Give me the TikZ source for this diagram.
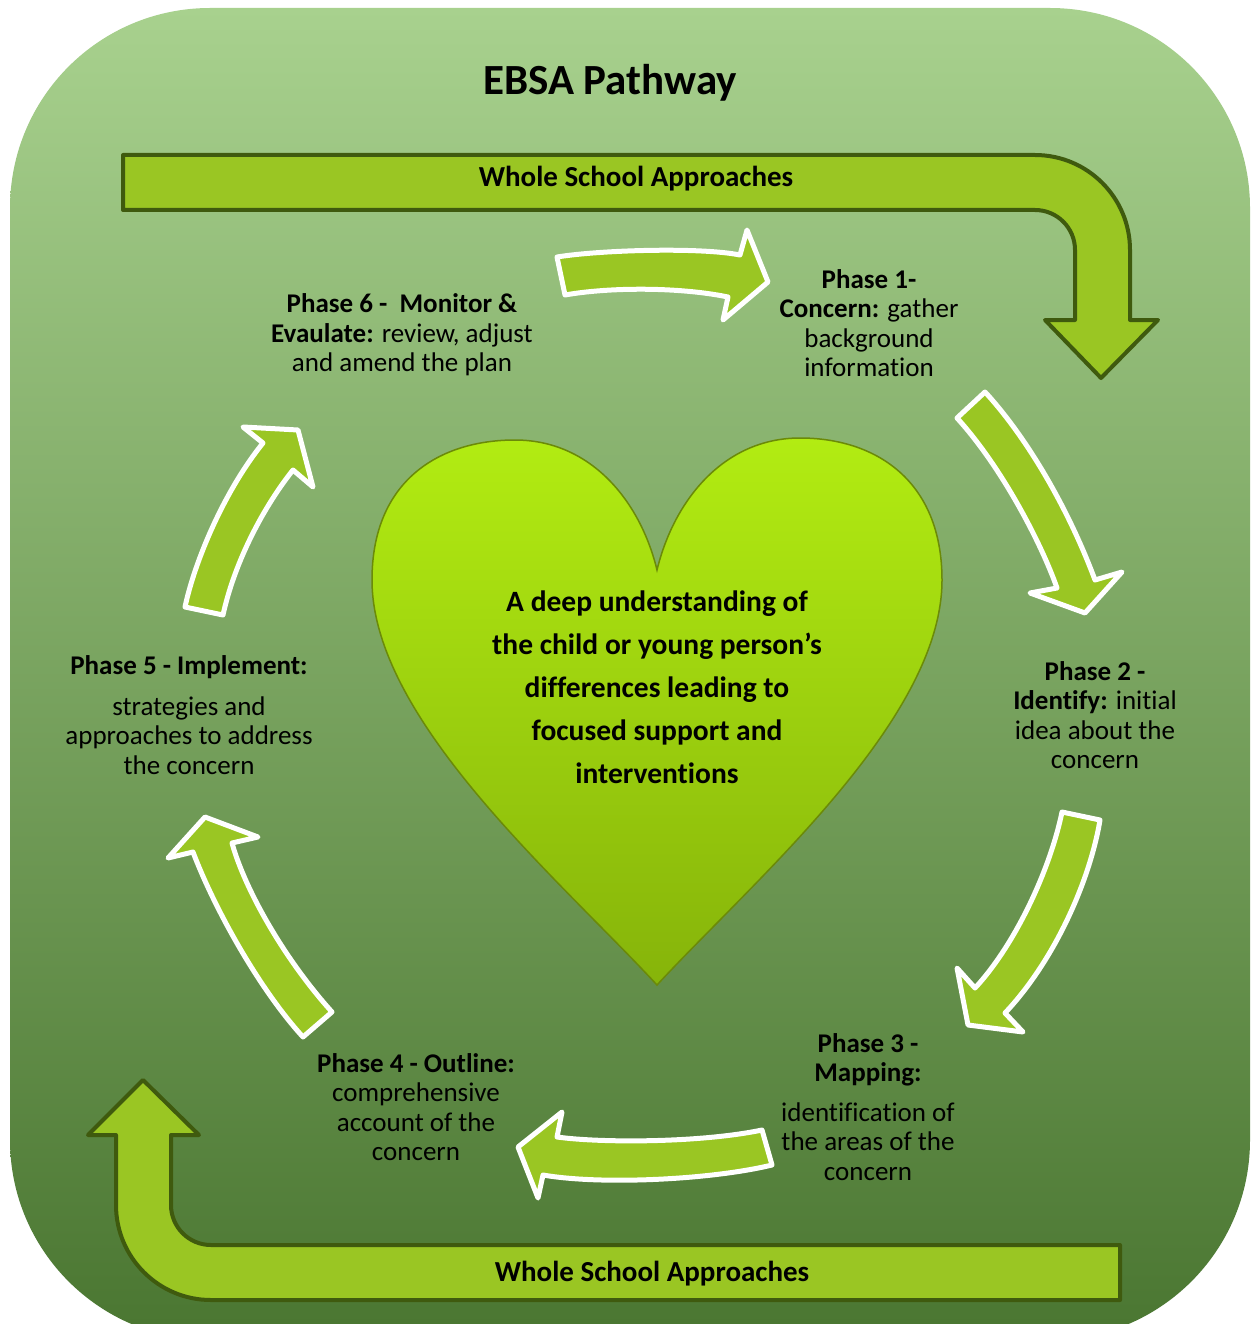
\documentclass[tikz,border=0pt]{standalone}
\usepackage{fontspec}
\setmainfont{Carlito}[Ligatures=NoCommon]

\definecolor{bgtop}{HTML}{A8D18E}
\definecolor{bgmid}{HTML}{72AC52}
\definecolor{bgbot}{HTML}{4A7631}
\definecolor{arrowfill}{HTML}{9AC623}
\definecolor{arrowline}{HTML}{3F5A0E}
\definecolor{hearttop}{HTML}{B2EC12}
\definecolor{heartbot}{HTML}{86B40A}
\definecolor{heartedge}{HTML}{6B8A08}

\begin{document}
\begin{tikzpicture}[x=1pt, y=-1pt]
\tikzset{ bent/.style={fill=arrowfill, draw=arrowline, line width=4pt, line join=round},
          curved/.style={fill=arrowfill, draw=white, line width=5pt, line join=round},
          phase/.style={align=center, inner sep=0pt, font=\fontsize{27}{29.5}\selectfont},
          band/.style={inner sep=0pt, font=\fontsize{29}{32}\selectfont\bfseries},
        }

\useasboundingbox (0,0) rectangle (1252,1324);

% background panel
\shade [top color=bgtop, middle color=bgmid, bottom color=bgbot, rounded corners=200pt]
  (10,8) rectangle (1250,1340);

% whole school band, top (y runs downwards, so angles turn the other way)
\draw [bent] (123,155) -- (1035,155) arc [start angle=-90, end angle=0, radius=95]
  -- (1130,320) -- (1158,320) -- (1101,378) -- (1045,320) -- (1075,320) -- (1075,250)
  arc [start angle=0, end angle=-90, radius=40] -- (123,210) -- cycle;

% whole school band, bottom
\draw [bent] (1120,1245) -- (211,1245) arc [start angle=90, end angle=180, radius=40]
  -- (171,1135) -- (199,1135) -- (143,1080) -- (88,1135) -- (116,1135) -- (116,1205)
  arc [start angle=180, end angle=90, radius=95] -- (1120,1300) -- cycle;

\node [band] (wsa1) at (636,179) {Whole School Approaches};
\node [band] (wsa2) at (652,1274) {Whole School Approaches};

% cycle arrows
\draw [curved] (557,257) .. controls (600,250) and (700,247) .. (740,255)
  -- (747,230) -- (768,282) -- (723,320) -- (728,297)
  .. controls (680,287) and (610,287) .. (565,295) -- cycle;
\draw [curved] (985,392) .. controls (1022,432) and (1065,500) .. (1095,580)
  -- (1122,572) -- (1085,613) -- (1030,593) -- (1057,588)
  .. controls (1040,540) and (1000,465) .. (957,418) -- cycle;
\draw [curved] (1100,820) .. controls (1090,880) and (1055,960) .. (1005,1013)
  -- (1023,1032) -- (968,1025) -- (957,968) -- (975,988)
  .. controls (1015,945) and (1050,870) .. (1062,812) -- cycle;
\draw [curved] (762,1130) .. controls (700,1143) and (600,1143) .. (557,1137)
  -- (562,1112) -- (518,1147) -- (538,1198) -- (543,1175)
  .. controls (600,1185) and (710,1180) .. (772,1165) -- cycle;
\draw [curved] (303,1037) .. controls (260,990) and (215,910) .. (193,852)
  -- (168,858) -- (205,817) -- (258,837) -- (232,843)
  .. controls (245,890) and (285,960) .. (332,1012) -- cycle;
\draw [curved] (185,607) .. controls (195,560) and (225,490) .. (263,443)
  -- (243,427) -- (298,430) -- (313,487) -- (293,470)
  .. controls (265,505) and (235,560) .. (223,615) -- cycle;

% heart
\shadedraw [top color=hearttop, bottom color=heartbot, draw=heartedge, line width=1.5pt]
  (657,985) .. controls (560,880) and (372,720) .. (372,580)
  .. controls (372,480) and (440,440) .. (515,440)
  .. controls (590,440) and (640,500) .. (657,570)
  .. controls (674,500) and (724,438) .. (800,438)
  .. controls (875,438) and (942,480) .. (942,580)
  .. controls (942,720) and (754,880) .. (657,985) -- cycle;

\node [align=center, font=\fontsize{29.5}{43}\selectfont\bfseries] (core) at (657,687)
  {A deep understanding of\\the child or young person’s\\differences leading to\\focused support and\\interventions};

% title and phases
\node [font=\fontsize{43}{48}\selectfont\bfseries] (title) at (610,83) {EBSA Pathway};

\node [phase] (p1) at (869,323) {\textbf{Phase 1-}\\\textbf{Concern:} gather\\background\\information};
\node [phase] (p2) at (1095,715) {\textbf{Phase 2 -}\\\textbf{Identify:} initial\\idea about the\\concern};
\node [phase] (p3) at (868,1107) {\textbf{Phase 3 -}\\\textbf{Mapping:}\\[10pt]identification of\\the areas of the\\concern};
\node [phase] (p4) at (416,1107) {\textbf{Phase 4 - Outline:}\\comprehensive\\account of the\\concern};
\node [phase] (p5) at (189,715) {\textbf{Phase 5 - Implement:}\\[11pt]strategies and\\approaches to address\\the concern};
\node [phase] (p6) at (402,335) {\textbf{Phase 6 -\ \ Monitor \&}\\\textbf{Evaulate:} review, adjust\\and amend the plan};

\end{tikzpicture}
\end{document}
